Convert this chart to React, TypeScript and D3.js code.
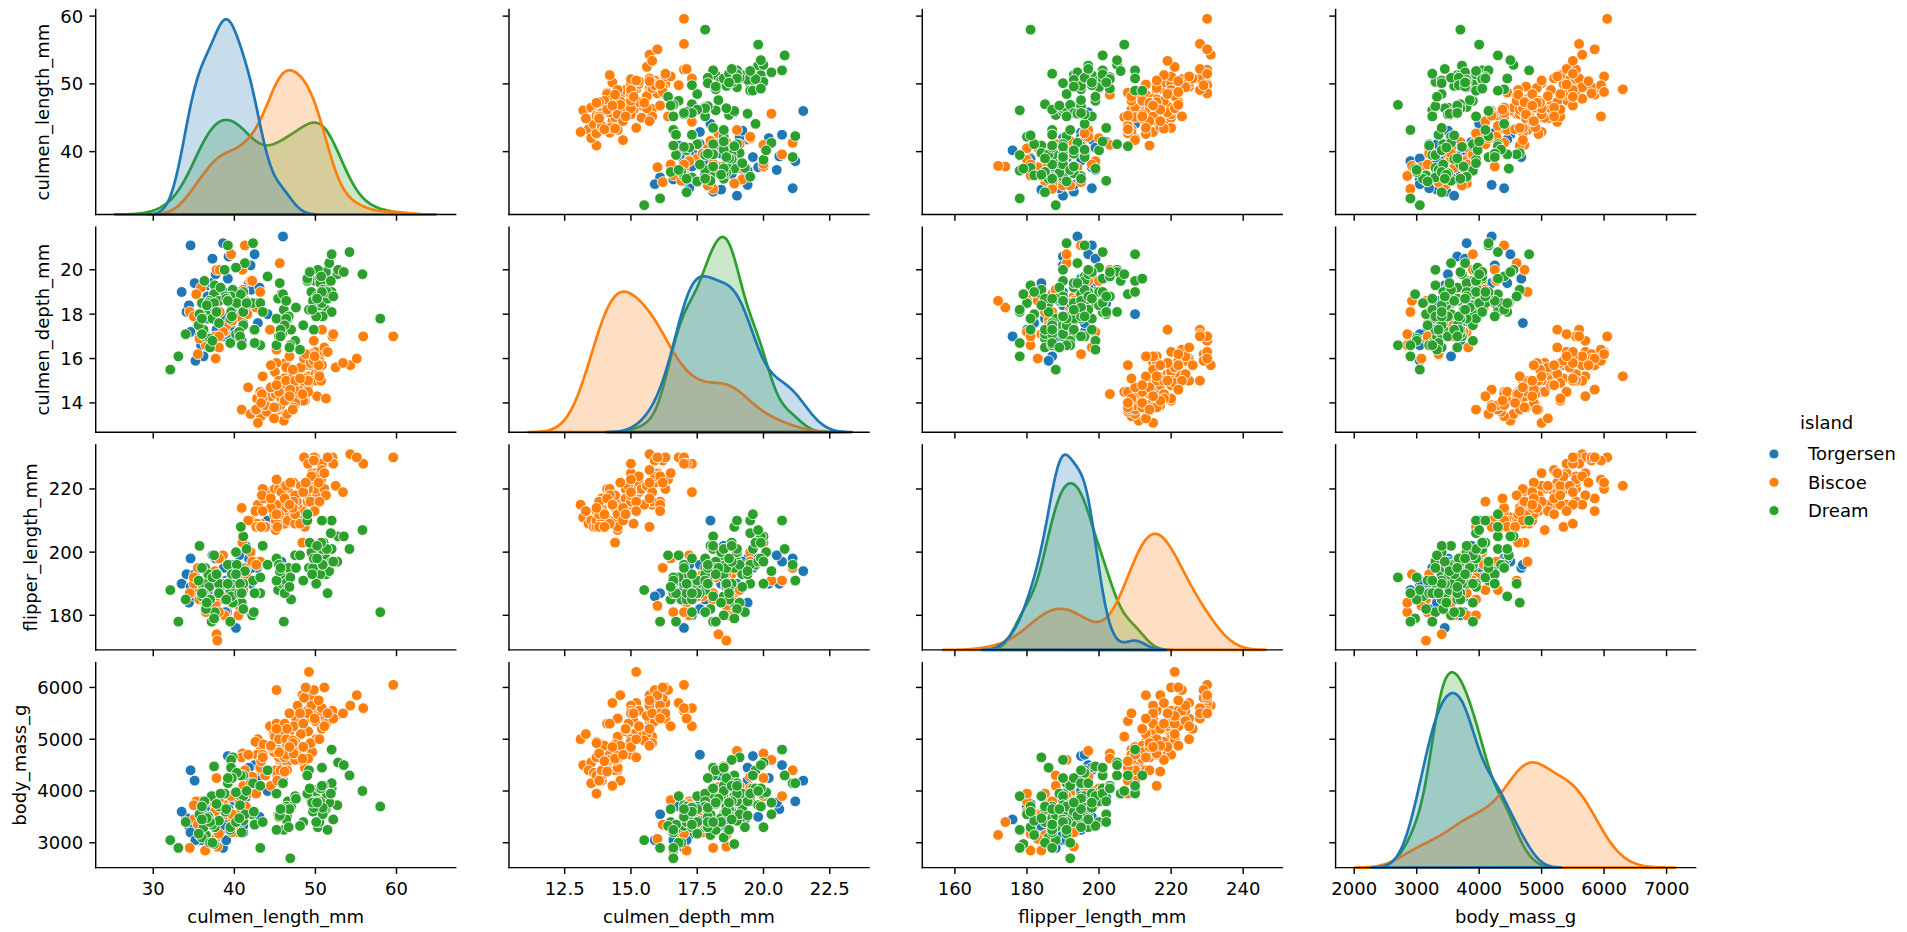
import React from "react";
import * as d3 from "d3";

// ---------------- DATA (rows: culmen_length_mm, culmen_depth_mm, flipper_length_mm, body_mass_g) ----------------
const variables = ["culmen_length_mm", "culmen_depth_mm", "flipper_length_mm", "body_mass_g"];
const islands = ["Torgersen", "Biscoe", "Dream"];
const islandColors = ["#1f77b4", "#ff7f0e", "#2ca02c"];

const torgersenRows1 = [
  [39.1, 18.7, 181, 3750], [39.5, 17.4, 186, 3800], [40.3, 18.0, 195, 3250], [36.7, 19.3, 193, 3450],
  [39.3, 20.6, 190, 3650], [38.9, 17.8, 181, 3625], [39.2, 19.6, 195, 4675], [34.1, 18.1, 193, 3475],
  [42.0, 20.2, 190, 4250], [37.8, 17.1, 186, 3300], [37.8, 17.3, 180, 3700], [41.1, 17.6, 182, 3200],
  [38.6, 21.2, 191, 3800], [34.6, 21.1, 198, 4400], [36.6, 17.8, 185, 3700], [38.7, 19.0, 195, 3450],
  [42.5, 20.7, 197, 4500], [34.4, 18.4, 184, 3325], [46.0, 21.5, 194, 4200],
];
const torgersenRows2 = [
  [35.9, 16.6, 190, 3050], [41.8, 19.4, 198, 4450], [33.5, 19.0, 190, 3600], [39.7, 18.4, 190, 3900],
  [39.6, 17.2, 196, 3550], [45.8, 18.9, 197, 4150], [35.5, 17.5, 190, 3700], [42.8, 18.5, 195, 4250],
  [40.9, 16.8, 191, 3700], [37.2, 19.4, 184, 3900], [36.2, 16.1, 187, 3550], [42.1, 19.1, 195, 4000],
  [34.6, 17.2, 189, 3200], [42.9, 17.6, 196, 4700], [36.7, 18.8, 187, 3800], [35.1, 19.4, 193, 4200],
];
const torgersenRows3 = [
  [38.6, 17.0, 188, 2900], [37.3, 20.5, 199, 3775], [35.7, 17.0, 189, 3350], [41.1, 18.6, 189, 3325],
  [36.2, 17.2, 187, 3150], [37.7, 19.8, 198, 3500], [40.2, 17.0, 176, 3450], [41.4, 18.5, 202, 3875],
  [35.2, 15.9, 186, 3050], [40.6, 19.0, 199, 4000], [38.8, 17.6, 191, 3275], [41.5, 18.3, 195, 4300],
  [39.0, 17.1, 191, 3050], [44.1, 18.0, 210, 4000], [38.5, 17.9, 190, 3325], [43.1, 19.2, 197, 3500],
];
const biscoeRows1 = [
  [37.8, 18.3, 174, 3400], [37.7, 18.7, 180, 3600], [35.9, 19.2, 189, 3800], [38.2, 18.1, 185, 3950],
  [38.8, 17.2, 180, 3800], [35.3, 18.9, 187, 3800], [40.6, 18.6, 183, 3550], [40.5, 17.9, 187, 3200],
  [37.9, 18.6, 172, 3150], [40.5, 18.9, 180, 3950],
];
const biscoeRows2 = [
  [39.6, 17.7, 186, 3500], [40.1, 18.9, 188, 4300], [35.0, 17.9, 190, 3450], [42.0, 19.5, 200, 4050],
  [34.5, 18.1, 187, 2900], [41.4, 18.6, 191, 3700], [39.0, 17.5, 186, 3550], [40.6, 18.8, 193, 3800],
  [36.5, 16.6, 181, 2850], [37.6, 19.1, 194, 3750], [35.7, 16.9, 185, 3150], [41.3, 21.1, 195, 4400],
  [37.6, 17.0, 185, 3600], [41.1, 18.2, 192, 4050], [36.4, 17.1, 184, 2850], [41.6, 18.0, 192, 3950],
  [35.5, 16.2, 195, 3350], [41.1, 19.1, 188, 4100],
];
const biscoeRows3 = [
  [35.0, 17.9, 192, 3725], [41.0, 20.0, 203, 4725], [37.7, 16.0, 183, 3075], [37.8, 20.0, 190, 4250],
  [37.9, 18.6, 193, 2925], [39.7, 18.9, 184, 3550], [38.6, 17.2, 199, 3750], [38.2, 20.0, 190, 3900],
  [38.1, 17.0, 181, 3175], [43.2, 19.0, 197, 4775], [38.1, 16.5, 198, 3825], [45.6, 20.3, 191, 4600],
  [39.7, 17.7, 193, 3200], [42.2, 19.5, 197, 4275], [39.6, 20.7, 191, 3900], [42.7, 18.3, 196, 4075],
];
const biscoeRows4 = [
  [46.1, 13.2, 211, 4500], [50.0, 16.3, 230, 5700], [48.7, 14.1, 210, 4450], [50.0, 15.2, 218, 5700],
  [47.6, 14.5, 215, 5400], [46.5, 13.5, 210, 4550], [45.4, 14.6, 211, 4800], [46.7, 15.3, 219, 5200],
  [43.3, 13.4, 209, 4400], [46.8, 15.4, 215, 5150], [40.9, 13.7, 214, 4650], [49.0, 16.1, 216, 5550],
  [45.5, 13.7, 214, 4650], [48.4, 14.6, 213, 5850], [45.8, 14.6, 210, 4200], [49.3, 15.7, 217, 5850],
  [42.0, 13.5, 210, 4150], [49.2, 15.2, 221, 6300], [46.2, 14.5, 209, 4800], [48.7, 15.1, 222, 5350],
  [50.2, 14.3, 218, 5700], [45.1, 14.5, 215, 5000], [46.5, 14.5, 213, 4400], [46.3, 15.8, 215, 5050],
  [42.9, 13.1, 215, 5000], [46.1, 15.1, 215, 5100], [44.5, 14.3, 216, 4100], [47.8, 15.0, 215, 5650],
  [48.2, 14.3, 210, 4600], [50.0, 15.3, 220, 5550], [47.3, 15.3, 222, 5250], [42.8, 14.2, 209, 4700],
  [45.1, 14.5, 207, 5050], [59.6, 17.0, 230, 6050], [49.1, 14.8, 220, 5150], [48.4, 16.3, 220, 5400],
  [42.6, 13.7, 213, 4950], [44.4, 17.3, 219, 5250], [44.0, 13.6, 208, 4350], [48.7, 15.7, 208, 5350],
  [42.7, 13.7, 208, 3950], [49.6, 16.0, 225, 5700], [45.3, 13.7, 210, 4300], [49.6, 15.0, 216, 4750],
  [50.5, 15.9, 222, 5550], [43.6, 13.9, 217, 4900], [45.5, 13.9, 210, 4200], [50.5, 15.9, 225, 5400],
  [44.9, 13.3, 213, 5100], [45.2, 15.8, 215, 5300], [46.6, 14.2, 210, 4850], [48.5, 14.1, 220, 5300],
  [45.1, 14.4, 210, 4400], [50.1, 15.0, 225, 5000], [46.5, 14.4, 217, 4900], [45.0, 15.4, 220, 5050],
  [43.8, 13.9, 208, 4300], [45.5, 15.0, 220, 5000], [43.2, 14.5, 208, 4450], [50.4, 15.3, 224, 5550],
  [45.3, 13.8, 208, 4200], [46.2, 14.9, 221, 5300], [45.7, 13.9, 214, 4400], [54.3, 15.7, 231, 5650],
  [45.8, 14.2, 219, 4700], [49.8, 16.8, 230, 5700], [46.2, 14.4, 214, 4650], [49.5, 16.2, 229, 5800],
  [43.5, 14.2, 220, 4700], [50.7, 15.0, 223, 5550], [47.7, 15.0, 216, 4750], [46.4, 15.6, 221, 5000],
  [48.2, 15.6, 221, 5100], [46.5, 14.8, 217, 5200], [46.4, 15.0, 216, 4700], [48.6, 16.0, 230, 5800],
  [47.5, 14.2, 209, 4600], [51.1, 16.3, 220, 6000], [45.2, 13.8, 215, 4750], [45.2, 16.4, 223, 5950],
  [49.1, 14.5, 212, 4625], [52.5, 15.6, 221, 5450], [47.4, 14.6, 212, 4725], [50.0, 15.9, 224, 5350],
  [44.9, 13.8, 212, 4750], [50.8, 17.3, 228, 5600], [43.4, 14.4, 218, 4600], [51.3, 14.2, 218, 5300],
  [47.5, 14.0, 212, 4875], [52.1, 17.0, 230, 5550], [47.5, 15.0, 218, 4950], [52.2, 17.1, 228, 5400],
  [45.5, 14.5, 212, 4750], [49.5, 16.1, 224, 5650], [44.5, 14.7, 214, 4850], [50.8, 15.7, 226, 5200],
  [49.4, 15.8, 216, 4925], [46.9, 14.6, 222, 4875], [48.4, 14.4, 203, 4625], [51.1, 16.5, 225, 5250],
  [48.5, 15.0, 219, 4850], [55.9, 17.0, 228, 5600], [47.2, 15.5, 215, 4975], [49.1, 15.0, 228, 5500],
  [47.3, 13.8, 216, 4725], [46.8, 16.1, 215, 5500], [41.7, 14.7, 210, 4700], [53.4, 15.8, 219, 5500],
  [43.3, 14.0, 208, 4575], [48.1, 15.1, 209, 5500], [50.5, 15.2, 216, 5000], [49.8, 15.9, 229, 5950],
  [43.5, 15.2, 213, 4650], [51.5, 16.3, 230, 5500], [46.2, 14.1, 217, 4375], [55.1, 16.0, 230, 5850],
  [44.5, 15.7, 217, 4875], [48.8, 16.2, 222, 6000], [47.2, 13.7, 214, 4925], [46.8, 14.3, 215, 4850],
  [50.4, 15.7, 222, 5750], [45.2, 14.8, 212, 5200], [49.9, 16.1, 213, 5400],
];
const dreamRows1 = [
  [39.5, 16.7, 178, 3250], [37.2, 18.1, 178, 3900], [39.5, 17.8, 188, 3300], [40.9, 18.9, 184, 3900],
  [36.4, 17.0, 195, 3325], [39.2, 21.1, 196, 4150], [38.8, 20.0, 190, 3950], [42.2, 18.5, 180, 3550],
  [37.6, 19.3, 181, 3300], [39.8, 19.1, 184, 4650], [36.5, 18.0, 182, 3150], [40.8, 18.4, 195, 3900],
  [36.0, 18.5, 186, 3100], [44.1, 19.7, 196, 4400], [37.0, 16.9, 185, 3000], [39.6, 18.8, 190, 4600],
  [41.1, 19.0, 182, 3425], [37.5, 18.9, 179, 2975], [36.0, 17.9, 190, 3450], [42.3, 21.2, 191, 4150],
];
const dreamRows2 = [
  [37.3, 17.8, 191, 3350], [41.3, 20.3, 194, 3550], [36.3, 19.5, 190, 3800], [36.9, 18.6, 189, 3500],
  [38.3, 19.2, 189, 3950], [38.9, 18.8, 190, 3600], [35.7, 18.0, 202, 3550], [41.1, 18.1, 205, 4300],
  [34.0, 17.1, 185, 3400], [39.6, 18.1, 186, 4450], [36.2, 17.3, 187, 3300], [40.8, 18.9, 208, 4300],
  [38.1, 18.6, 190, 3700], [40.3, 18.5, 196, 4350], [33.1, 16.1, 178, 2900], [43.2, 18.5, 192, 4100],
];
const dreamRows3 = [
  [36.8, 18.5, 193, 3500], [37.5, 18.5, 199, 4475], [38.1, 17.6, 187, 3425], [41.1, 17.5, 190, 3900],
  [35.6, 17.5, 191, 3175], [40.2, 20.1, 200, 3975], [37.0, 16.5, 185, 3400], [39.7, 17.9, 193, 4250],
  [40.2, 17.1, 193, 3400], [40.6, 17.2, 187, 3475], [32.1, 15.5, 188, 3050], [40.7, 17.0, 190, 3725],
  [37.3, 16.8, 192, 3000], [39.0, 18.7, 185, 3650], [39.2, 18.6, 190, 4250], [36.6, 18.4, 184, 3475],
  [36.0, 17.8, 195, 3450], [37.8, 18.1, 193, 3750], [36.0, 17.1, 187, 3700], [41.5, 18.5, 201, 4000],
];
const dreamRows4 = [
  [46.5, 17.9, 192, 3500], [50.0, 19.5, 196, 3900], [51.3, 19.2, 193, 3650], [45.4, 18.7, 188, 3525],
  [52.7, 19.8, 197, 3725], [45.2, 17.8, 198, 3950], [46.1, 18.2, 178, 3250], [51.3, 18.2, 197, 3750],
  [46.0, 18.9, 195, 4150], [51.3, 19.9, 198, 3700], [46.6, 17.8, 193, 3800], [51.7, 20.3, 194, 3775],
  [47.0, 17.3, 185, 3700], [52.0, 18.1, 201, 4050], [45.9, 17.1, 190, 3575], [50.5, 19.6, 201, 4050],
  [50.3, 20.0, 197, 3300], [58.0, 17.8, 181, 3700], [46.4, 18.6, 190, 3450], [49.2, 18.2, 195, 4400],
  [42.4, 17.3, 181, 3600], [48.5, 17.5, 191, 3400], [43.2, 16.6, 187, 2900], [50.6, 19.4, 193, 3800],
  [46.7, 17.9, 195, 3300], [52.0, 19.0, 197, 4150], [50.5, 18.4, 200, 3400], [49.5, 19.0, 200, 3800],
  [46.4, 17.8, 191, 3700], [52.8, 20.0, 205, 4550], [40.9, 16.6, 187, 3200], [54.2, 20.8, 201, 4300],
  [42.5, 16.7, 187, 3350], [51.0, 18.8, 203, 4100], [49.7, 18.6, 195, 3600], [47.5, 16.8, 199, 3900],
  [47.6, 18.3, 195, 3850], [52.0, 20.7, 210, 4800], [46.9, 16.6, 192, 2700], [53.5, 19.9, 205, 4500],
  [49.0, 19.5, 210, 3950], [46.2, 17.5, 187, 3650], [50.9, 19.1, 196, 3550], [45.5, 17.0, 196, 3500],
  [50.9, 17.9, 196, 3675], [50.8, 18.5, 201, 4450], [50.1, 17.9, 190, 3400], [49.0, 19.6, 212, 4300],
  [51.5, 18.7, 187, 3250], [49.8, 17.3, 198, 3675], [48.1, 16.4, 199, 3325], [51.4, 19.0, 201, 3950],
  [45.7, 17.3, 193, 3600], [50.7, 19.7, 203, 4050], [42.5, 17.3, 187, 3350], [52.2, 18.8, 197, 3450],
  [45.2, 16.6, 191, 3250], [49.3, 19.9, 203, 4050], [50.2, 18.8, 202, 3800], [45.6, 19.4, 194, 3525],
  [51.9, 19.5, 206, 3950], [46.8, 16.5, 189, 3650], [45.7, 17.0, 195, 3650], [55.8, 19.8, 207, 4000],
  [43.5, 18.1, 202, 3400], [49.6, 18.2, 193, 3775], [50.8, 19.0, 210, 4100], [50.2, 18.7, 198, 3775],
];

// per-island rows, drawn island by island (Torgersen, Biscoe, Dream)
const torgersenRows = [...torgersenRows1, ...torgersenRows2, ...torgersenRows3];
const biscoeRows = [...biscoeRows1, ...biscoeRows2, ...biscoeRows3, ...biscoeRows4];
const dreamRows = [...dreamRows1, ...dreamRows2, ...dreamRows3, ...dreamRows4];
const islandRows = [torgersenRows, biscoeRows, dreamRows];

// axis settings
const columnDomains = [[22.9, 67.3], [10.4, 23.98], [150.96, 250.85], [1702, 7465]];
const columnTicks = [[30, 40, 50, 60], [12.5, 15, 17.5, 20, 22.5], [160, 180, 200, 220, 240], [2000, 3000, 4000, 5000, 6000, 7000]];
const columnTickFormats = ["d", ".1f", "d", "d"];
const rowTicks = [[40, 50, 60], [14, 16, 18, 20], [180, 200, 220], [3000, 4000, 5000, 6000]];

// ---------------- LAYOUT ----------------
const W = 1907, H = 932;
const left0 = 95.7, colPitch = 413.3, axW = 360;
const top0 = 9.5, rowPitch = 217.7, axH = 205;
const FS = 18;
const tickLen = 6.3, tickPad = 6.3, lw = 1.44;
const markerR = 5.4;
const FONT = "'DejaVu Sans', sans-serif";

function kdeCurve(values: number[]) {
  const n = values.length;
  const sd = d3.deviation(values) as number;
  const bw = sd * Math.pow(n, -1 / 5);
  const lo = (d3.min(values) as number) - 3 * bw;
  const hi = (d3.max(values) as number) + 3 * bw;
  const pts: [number, number][] = [];
  const G = 200;
  for (let i = 0; i < G; i++) {
    const x = lo + ((hi - lo) * i) / (G - 1);
    let s = 0;
    for (const v of values) {
      const z = (x - v) / bw;
      s += Math.exp(-0.5 * z * z);
    }
    pts.push([x, s / (n * bw * Math.sqrt(2 * Math.PI))]);
  }
  return pts;
}

export default function App() {
  const points = islandRows.flatMap((rows, g) => rows.map((r) => ({ g, r })));

  const rowDomains = variables.map((_, j) => {
    const ext = d3.extent(points, (p) => p.r[j]) as [number, number];
    const pad = (ext[1] - ext[0]) * 0.05;
    return [ext[0] - pad, ext[1] + pad];
  });

  const xScales = variables.map((_, j) =>
    d3.scaleLinear().domain(columnDomains[j]).range([left0 + j * colPitch, left0 + j * colPitch + axW])
  );
  const yScales = variables.map((_, i) =>
    d3.scaleLinear().domain(rowDomains[i]).range([top0 + i * rowPitch + axH, top0 + i * rowPitch])
  );

  const cells: JSX.Element[] = [];
  variables.forEach((_, i) => {
    variables.forEach((__, j) => {
      const x = xScales[j];
      const y = yScales[i];
      const L = left0 + j * colPitch, T = top0 + i * rowPitch, B = T + axH;
      const key = `c${i}-${j}`;
      const content: JSX.Element[] = [];
      if (i !== j) {
        points.forEach((p, k) => {
          content.push(
            <circle key={k} cx={x(p.r[j])} cy={y(p.r[i])} r={markerR} fill={islandColors[p.g]} stroke="#fff" strokeWidth={0.87} />
          );
        });
      } else {
        const curves = islandRows.map((rows) => kdeCurve(rows.map((r) => r[j])));
        const maxD = d3.max(curves.flat(), (d) => d[1]) as number;
        const dy = d3.scaleLinear().domain([0, maxD * 1.05]).range([B, T]);
        const area = d3.area<[number, number]>().x((d) => x(d[0])).y0(dy(0)).y1((d) => dy(d[1]));
        const line = d3.line<[number, number]>().x((d) => x(d[0])).y((d) => dy(d[1]));
        [2, 1, 0].forEach((g) => {
          content.push(
            <g key={g}>
              <path d={area(curves[g]) as string} fill={islandColors[g]} fillOpacity={0.25} stroke="none" />
              <path d={(line(curves[g]) as string) + "Z"} fill="none" stroke={islandColors[g]} strokeWidth={2.7} strokeLinejoin="round" />
            </g>
          );
        });
      }
      const fmt = d3.format(columnTickFormats[j]);
      content.push(
        <g key="axes">
          <line x1={L} x2={L + axW} y1={B} y2={B} stroke="#000" strokeWidth={lw} strokeLinecap="square" />
          <line x1={L} x2={L} y1={T} y2={B} stroke="#000" strokeWidth={lw} strokeLinecap="square" />
          {columnTicks[j].map((t) => (
            <g key={"xt" + t}>
              <line x1={x(t)} x2={x(t)} y1={B} y2={B + tickLen} stroke="#000" strokeWidth={lw} />
              {i === 3 && (
                <text x={x(t)} y={B + 27} textAnchor="middle" fontSize={FS} fontFamily={FONT} fill="#000">
                  {fmt(t)}
                </text>
              )}
            </g>
          ))}
          {rowTicks[i].map((t) => (
            <g key={"yt" + t}>
              <line x1={L - tickLen} x2={L} y1={y(t)} y2={y(t)} stroke="#000" strokeWidth={lw} />
              {j === 0 && (
                <text x={L - tickLen - tickPad} y={y(t) + FS * 0.36} textAnchor="end" fontSize={FS} fontFamily={FONT} fill="#000">
                  {d3.format("d")(t)}
                </text>
              )}
            </g>
          ))}
        </g>
      );
      cells.push(<g key={key}>{content}</g>);
    });
  });

  const labels: JSX.Element[] = [];
  variables.forEach((v, j) => {
    const L = left0 + j * colPitch;
    labels.push(
      <text key={"xl" + j} x={L + axW / 2} y={top0 + 3 * rowPitch + axH + 55} textAnchor="middle" fontSize={FS} fontFamily={FONT} fill="#000">
        {v}
      </text>
    );
  });
  variables.forEach((v, i) => {
    const maxChars = d3.max(rowTicks[i], (t) => String(t).length) as number;
    const tlLeft = left0 - tickLen - tickPad - maxChars * 0.636 * FS;
    const bx = tlLeft - 7.2 - 4.3;
    const cy = top0 + i * rowPitch + axH / 2;
    labels.push(
      <text key={"yl" + i} transform={`translate(${bx},${cy}) rotate(-90)`} textAnchor="middle" fontSize={FS} fontFamily={FONT} fill="#000">
        {v}
      </text>
    );
  });

  const legend = (
    <g>
      <text x={1800} y={423 + FS * 0.36} fontSize={FS} fontFamily={FONT} fill="#000">island</text>
      {islands.map((isl, k) => (
        <g key={isl}>
          <circle cx={1774} cy={454 + k * 28.3} r={5} fill={islandColors[k]} stroke="#fff" strokeWidth={0.87} />
          <text x={1808} y={454 + k * 28.3 + FS * 0.36} fontSize={FS} fontFamily={FONT} fill="#000">{isl}</text>
        </g>
      ))}
    </g>
  );

  return (
    <svg width={W} height={H} style={{ position: "absolute", left: 0, top: 0, display: "block", background: "#fff" }}>
      <rect x={0} y={0} width={W} height={H} fill="#fff" />
      {cells}
      {labels}
      {legend}
    </svg>
  );
}
